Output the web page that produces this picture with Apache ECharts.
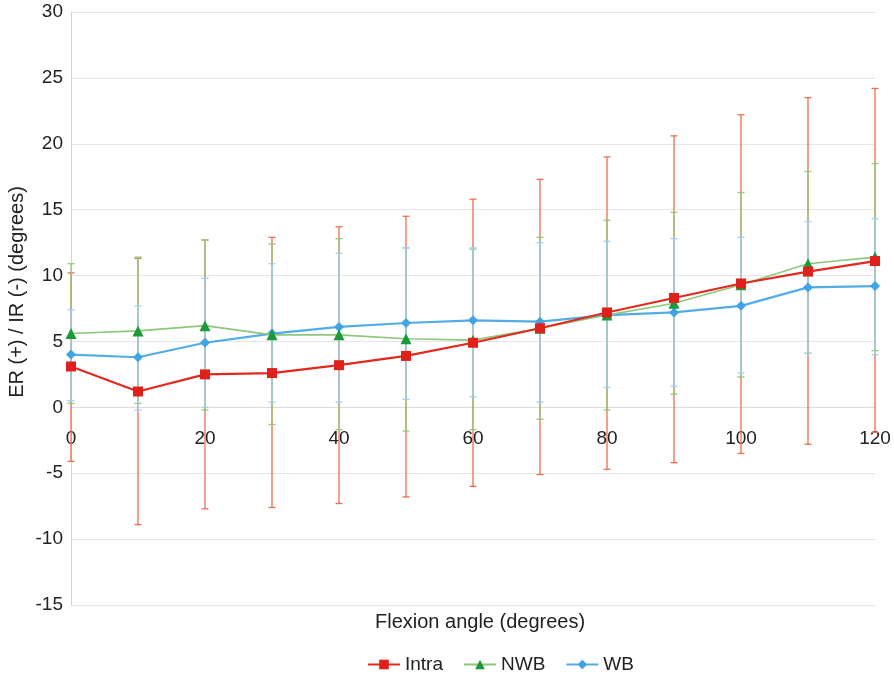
<!DOCTYPE html>
<html>
<head>
<meta charset="utf-8">
<script src="https://cdn.jsdelivr.net/npm/echarts@6/dist/echarts.min.js"></script>
<style>
html,body{margin:0;padding:0;background:#fff;}
#chart{width:894px;height:676px;}
</style>
</head>
<body>
<div id="chart"></div>
<script>
// Flexion angles (degrees)
var angles = [0, 10, 20, 30, 40, 50, 60, 70, 80, 90, 100, 110, 120];

// Intra: mean, lower end, upper end of error bar
var intraMean = [3.1, 1.2, 2.5, 2.6, 3.2, 3.9, 4.9, 6.0, 7.2, 8.3, 9.4, 10.3, 11.1];
var intraLow  = [-4.1, -8.9, -7.7, -7.6, -7.3, -6.8, -6.0, -5.1, -4.7, -4.2, -3.5, -2.8, -1.9];
var intraHigh = [10.2, 11.3, 12.7, 12.9, 13.7, 14.5, 15.8, 17.3, 19.0, 20.6, 22.2, 23.5, 24.2];

// NWB
var nwbMean = [5.6, 5.8, 6.2, 5.5, 5.5, 5.2, 5.1, 6.0, 7.0, 7.9, 9.3, 10.9, 11.4];
var nwbLow  = [0.3, 0.3, -0.2, -1.3, -1.7, -1.8, -1.7, -0.9, -0.2, 1.0, 2.3, 4.1, 4.3];
var nwbHigh = [10.9, 11.4, 12.7, 12.4, 12.8, 12.1, 12.0, 12.9, 14.2, 14.8, 16.3, 17.9, 18.5];

// WB
var wbMean = [4.0, 3.8, 4.9, 5.6, 6.1, 6.4, 6.6, 6.5, 7.0, 7.2, 7.7, 9.1, 9.2];
var wbLow  = [0.5, -0.2, 0.0, 0.4, 0.4, 0.6, 0.8, 0.4, 1.5, 1.6, 2.6, 4.1, 4.0];
var wbHigh = [7.4, 7.7, 9.8, 10.9, 11.7, 12.1, 12.1, 12.5, 12.6, 12.8, 12.9, 14.1, 14.3];

var yTicks = [-15, -10, -5, 0, 5, 10, 15, 20, 25, 30];
var seriesNames = ['Intra', 'NWB', 'WB'];
var xName = 'Flexion angle (degrees)';
var yName = 'ER (+) / IR (-) (degrees)';

var FONT = '"Liberation Sans", Arial, Helvetica, sans-serif';

var GRID = { left: 71, right: 19, top: 12, bottom: 71 };
var CH = 676;
var yMin = yTicks[0], yMax = yTicks[yTicks.length - 1];
var gridH = CH - GRID.top - GRID.bottom;
// move the x axis from the bottom edge up to y = 0
var xAxisOffset = -gridH * (0 - yMin) / (yMax - yMin);

function pairs(xs, ys) { return xs.map(function (x, i) { return [x, ys[i]]; }); }
function triples(xs, lo, hi) { return xs.map(function (x, i) { return [x, lo[i], hi[i]]; }); }

function errorSeries(name, data, color, z) {
  return {
    type: 'custom',
    name: name + ' err',
    z: z,
    silent: true,
    encode: { x: 0, y: [1, 2] },
    data: data,
    renderItem: function (params, api) {
      var x = api.value(0);
      var lo = api.coord([x, api.value(1)]);
      var hi = api.coord([x, api.value(2)]);
      var hw = 3.5;
      var st = { stroke: color, lineWidth: 1.3, fill: null };
      return {
        type: 'group',
        children: [
          { type: 'line', shape: { x1: lo[0], y1: lo[1], x2: hi[0], y2: hi[1] }, style: st },
          { type: 'line', shape: { x1: hi[0] - hw, y1: hi[1], x2: hi[0] + hw, y2: hi[1] }, style: st },
          { type: 'line', shape: { x1: lo[0] - hw, y1: lo[1], x2: lo[0] + hw, y2: lo[1] }, style: st }
        ]
      };
    }
  };
}

var chart = echarts.init(document.getElementById('chart'), null, { renderer: 'canvas' });

chart.setOption({
  animation: false,
  backgroundColor: '#fff',
  textStyle: { fontFamily: FONT },
  grid: { left: GRID.left, right: GRID.right, top: GRID.top, bottom: GRID.bottom, containLabel: false },
  legend: {
    data: seriesNames,
    left: 362,
    top: 650,
    itemWidth: 32,
    itemHeight: 12,
    itemGap: 20,
    itemTextGap: 9,
    textStyle: { fontSize: 19, color: '#222', fontFamily: FONT }
  },
  xAxis: {
    type: 'value',
    min: 0,
    max: 120,
    interval: 20,
    position: 'bottom',
    offset: xAxisOffset,
    axisLine: { onZero: false, lineStyle: { color: '#dcdcdc', width: 1 } },
    axisTick: { show: false },
    splitLine: { show: false },
    axisLabel: { fontSize: 19, color: '#222', margin: 22, fontFamily: FONT }
  },
  yAxis: {
    type: 'value',
    min: yMin,
    max: yMax,
    interval: 5,
    axisLine: { show: true, onZero: false, lineStyle: { color: '#d8d0c8', width: 1 } },
    axisTick: { show: false },
    splitLine: { show: true, lineStyle: { color: '#e6e6e6', width: 1 } },
    axisLabel: { fontSize: 19, color: '#222', margin: 8, fontFamily: FONT }
  },
  graphic: [
    {
      type: 'text',
      left: 375,
      top: 612,
      style: { text: xName, fill: '#222', font: '20px ' + FONT }
    },
    {
      type: 'text',
      x: 7,
      y: 292,
      rotation: Math.PI / 2,
      style: { text: yName, fill: '#222', font: '20px ' + FONT, textAlign: 'center', textVerticalAlign: 'top' }
    }
  ],
  series: [
    errorSeries('Intra', triples(angles, intraLow, intraHigh), '#ec6e4e', 2),
    errorSeries('NWB', triples(angles, nwbLow, nwbHigh), '#94c97e', 2),
    errorSeries('WB', triples(angles, wbLow, wbHigh), '#9fd0f2', 2),
    {
      type: 'line',
      name: 'WB',
      z: 3,
      data: pairs(angles, wbMean),
      symbol: 'diamond',
      symbolSize: 10,
      lineStyle: { color: '#52ade6', width: 2.2 },
      itemStyle: { color: '#3fa4e4' }
    },
    {
      type: 'line',
      name: 'NWB',
      z: 4,
      data: pairs(angles, nwbMean),
      symbol: 'triangle',
      symbolSize: 11,
      lineStyle: { color: '#8fc77c', width: 1.6 },
      itemStyle: { color: '#1c9a3a' }
    },
    {
      type: 'line',
      name: 'Intra',
      z: 5,
      data: pairs(angles, intraMean),
      symbol: 'rect',
      symbolSize: 10,
      lineStyle: { color: '#e2291e', width: 2.2 },
      itemStyle: { color: '#e0201b' }
    }
  ]
});
</script>
</body>
</html>
